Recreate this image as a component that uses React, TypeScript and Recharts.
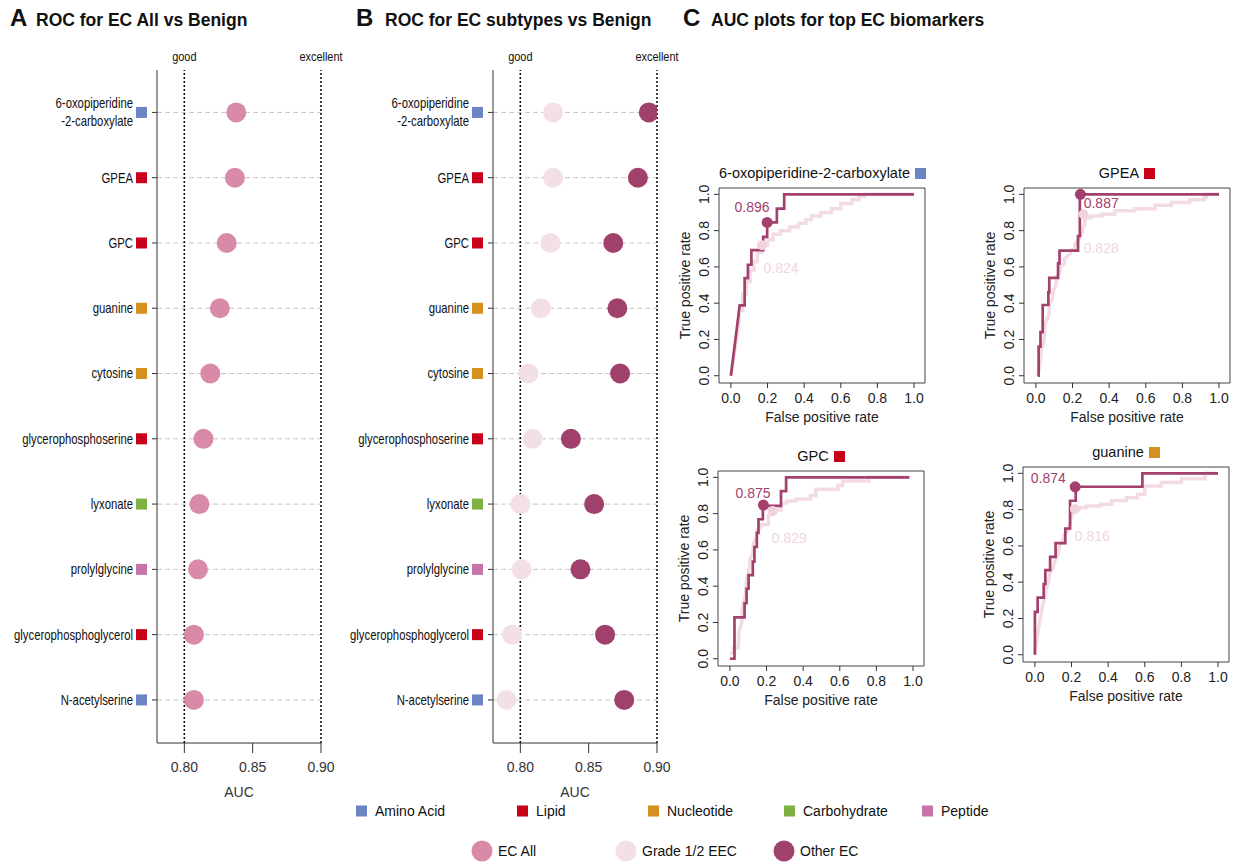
import React from "react";
import {
  ComposedChart,
  ScatterChart,
  Scatter,
  Line,
  XAxis,
  YAxis,
  ReferenceLine,
  ReferenceDot,
  ReferenceArea,
  Label,
} from "recharts";

const SANS = "'Liberation Sans', Arial, Helvetica, sans-serif";
const NARROW_SCALE = 0.81;

// ---- panels A / B data ----
const biomarkers = [
  "6-oxopiperidine\n-2-carboxylate",
  "GPEA",
  "GPC",
  "guanine",
  "cytosine",
  "glycerophosphoserine",
  "lyxonate",
  "prolylglycine",
  "glycerophosphoglycerol",
  "N-acetylserine",
];
const biomarkerClass = [
  "Amino Acid",
  "Lipid",
  "Lipid",
  "Nucleotide",
  "Nucleotide",
  "Lipid",
  "Carbohydrate",
  "Peptide",
  "Lipid",
  "Amino Acid",
];
const classNames = ["Amino Acid", "Lipid", "Nucleotide", "Carbohydrate", "Peptide"];
const classColors = ["#6b84c4", "#c8001a", "#d4911f", "#7db240", "#c973ab"];

const aucEcAll = [0.838, 0.837, 0.831, 0.826, 0.819, 0.814, 0.811, 0.81, 0.807, 0.807];
const aucGrade12 = [0.824, 0.824, 0.822, 0.815, 0.806, 0.809, 0.8, 0.801, 0.794, 0.79];
const aucOtherEc = [0.894, 0.886, 0.868, 0.871, 0.873, 0.837, 0.854, 0.844, 0.862, 0.876];

const groupNames = ["EC All", "Grade 1/2 EEC", "Other EC"];
const groupColors = ["#d98aa8", "#f2e0e6", "#a0416c"];

const aucTicks = [0.8, 0.85, 0.9];
const rowIdx = biomarkers.map((_, i) => i + 1);

// ---- panel C data ----
const rocTitles = ["6-oxopiperidine-2-carboxylate", "GPEA", "GPC", "guanine"];
const rocClass = ["Amino Acid", "Lipid", "Lipid", "Nucleotide"];
const rocAucOther = [0.896, 0.887, 0.875, 0.874];
const rocAucGrade = [0.824, 0.828, 0.829, 0.816];

const rocOther1 = [[0, 0], [0.048, 0.388], [0.075, 0.388], [0.075, 0.538], [0.093, 0.538], [0.093, 0.612], [0.112, 0.612], [0.112, 0.693], [0.176, 0.693], [0.176, 0.766], [0.198, 0.766], [0.198, 0.845], [0.251, 0.845], [0.251, 0.921], [0.291, 0.921], [0.291, 1], [1, 1]];
const rocGrade1 = [[0, 0], [0.045, 0.3], [0.045, 0.36], [0.065, 0.36], [0.065, 0.45], [0.085, 0.45], [0.085, 0.52], [0.105, 0.52], [0.105, 0.58], [0.125, 0.58], [0.125, 0.63], [0.145, 0.63], [0.145, 0.68], [0.17, 0.68], [0.17, 0.72], [0.2, 0.72], [0.2, 0.75], [0.23, 0.75], [0.23, 0.78], [0.27, 0.78], [0.27, 0.8], [0.32, 0.8], [0.32, 0.82], [0.37, 0.82], [0.37, 0.84], [0.41, 0.84], [0.41, 0.86], [0.44, 0.86], [0.44, 0.88], [0.49, 0.88], [0.49, 0.9], [0.55, 0.9], [0.55, 0.92], [0.6, 0.92], [0.6, 0.95], [0.66, 0.95], [0.66, 0.97], [0.7, 0.97], [0.7, 0.99], [0.73, 0.99], [0.73, 1], [1, 1]];

const rocOther2 = [[0.01, 0], [0.015, 0], [0.015, 0.16], [0.025, 0.16], [0.025, 0.24], [0.037, 0.24], [0.037, 0.39], [0.068, 0.39], [0.068, 0.46], [0.073, 0.46], [0.073, 0.54], [0.121, 0.54], [0.121, 0.62], [0.129, 0.62], [0.129, 0.69], [0.23, 0.69], [0.23, 0.77], [0.24, 0.77], [0.24, 1], [1, 1]];
const rocGrade2 = [[0.01, 0], [0.02, 0.05], [0.03, 0.14], [0.045, 0.2], [0.05, 0.29], [0.07, 0.33], [0.075, 0.4], [0.09, 0.42], [0.095, 0.47], [0.11, 0.5], [0.115, 0.55], [0.13, 0.57], [0.135, 0.6], [0.155, 0.62], [0.16, 0.65], [0.185, 0.67], [0.19, 0.69], [0.21, 0.7], [0.215, 0.73], [0.23, 0.74], [0.235, 0.76], [0.25, 0.78], [0.255, 0.81], [0.265, 0.83], [0.27, 0.87], [0.3, 0.87], [0.3, 0.88], [0.36, 0.88], [0.36, 0.89], [0.43, 0.89], [0.43, 0.91], [0.54, 0.91], [0.54, 0.92], [0.65, 0.92], [0.65, 0.94], [0.74, 0.94], [0.74, 0.955], [0.84, 0.955], [0.84, 0.97], [0.92, 0.97], [0.92, 0.985], [0.93, 0.985], [0.93, 1], [1, 1]];

const rocOther3 = [[0, 0], [0.025, 0], [0.025, 0.228], [0.08, 0.228], [0.08, 0.306], [0.091, 0.306], [0.091, 0.386], [0.102, 0.386], [0.102, 0.461], [0.125, 0.461], [0.125, 0.535], [0.134, 0.535], [0.134, 0.616], [0.147, 0.616], [0.147, 0.694], [0.156, 0.694], [0.156, 0.769], [0.18, 0.769], [0.18, 0.843], [0.279, 0.843], [0.279, 0.924], [0.307, 0.924], [0.307, 1], [0.98, 1]];
const rocGrade3 = [[0, 0.03], [0.02, 0.03], [0.02, 0.06], [0.045, 0.06], [0.05, 0.15], [0.065, 0.2], [0.07, 0.3], [0.085, 0.35], [0.09, 0.43], [0.105, 0.5], [0.11, 0.55], [0.125, 0.58], [0.13, 0.64], [0.145, 0.67], [0.15, 0.71], [0.165, 0.72], [0.17, 0.74], [0.21, 0.74], [0.21, 0.79], [0.24, 0.8], [0.26, 0.82], [0.28, 0.82], [0.28, 0.85], [0.31, 0.86], [0.31, 0.87], [0.36, 0.87], [0.36, 0.88], [0.44, 0.88], [0.44, 0.9], [0.47, 0.9], [0.47, 0.935], [0.59, 0.935], [0.59, 0.955], [0.615, 0.955], [0.615, 0.98], [0.76, 0.98], [0.76, 1], [0.98, 1]];

const rocOther4 = [[0, 0], [0, 0.236], [0.015, 0.236], [0.015, 0.315], [0.048, 0.315], [0.048, 0.389], [0.057, 0.389], [0.057, 0.466], [0.083, 0.466], [0.083, 0.54], [0.113, 0.54], [0.113, 0.615], [0.166, 0.615], [0.166, 0.696], [0.192, 0.696], [0.192, 0.849], [0.223, 0.849], [0.223, 0.926], [0.587, 0.926], [0.587, 1], [1, 1]];
const rocGrade4 = [[0, 0], [0.01, 0.08], [0.02, 0.15], [0.03, 0.2], [0.04, 0.26], [0.05, 0.3], [0.06, 0.36], [0.075, 0.4], [0.08, 0.45], [0.1, 0.48], [0.11, 0.52], [0.125, 0.55], [0.135, 0.6], [0.15, 0.62], [0.16, 0.66], [0.18, 0.68], [0.2, 0.76], [0.21, 0.79], [0.24, 0.8], [0.24, 0.81], [0.28, 0.81], [0.28, 0.82], [0.36, 0.82], [0.36, 0.83], [0.42, 0.83], [0.42, 0.85], [0.5, 0.85], [0.5, 0.865], [0.56, 0.865], [0.56, 0.885], [0.6, 0.885], [0.6, 0.93], [0.69, 0.93], [0.69, 0.95], [0.8, 0.95], [0.8, 0.97], [0.93, 0.97], [0.93, 1], [1, 1]];

const rocOther = [rocOther1, rocOther2, rocOther3, rocOther4];
const rocGrade = [rocGrade1, rocGrade2, rocGrade3, rocGrade4];
const rocDotOther = [[0.198, 0.845], [0.243, 1.0], [0.183, 0.847], [0.22, 0.926]];
const rocDotGrade = [[0.17, 0.72], [0.26, 0.89], [0.234, 0.815], [0.218, 0.803]];

const rateTicks = [0, 0.2, 0.4, 0.6, 0.8, 1];

// layout of the four ROC boxes and where the AUC text sits (data units)
const rocLayout = [
  { boxX: 719, boxY: 188, otherLab: [0.02, 0.93], gradeLab: [0.178, 0.594] },
  { boxX: 1024, boxY: 188, otherLab: [0.261, 0.951], gradeLab: [0.261, 0.704] },
  { boxX: 718, boxY: 471, otherLab: [0.031, 0.912], gradeLab: [0.229, 0.666] },
  { boxX: 1023, boxY: 467, otherLab: [-0.022, 0.974], gradeLab: [0.218, 0.652] },
];

const colorOf = (cls: string) => classColors[classNames.indexOf(cls)];
const toPts = (arr: number[][]) => arr.map(([x, y]) => ({ x, y }));

// condensed-looking text (no narrow font installed)
function NarrowText({ x, y, anchor, size, children }: any) {
  return (
    <text
      transform={`translate(${x},${y}) scale(${NARROW_SCALE},1)`}
      textAnchor={anchor}
      fontFamily={SANS}
      fontSize={size}
      fill="#111"
      dy="0.35em"
    >
      {children}
    </text>
  );
}

function MarkerTick(props: any) {
  const { x, y, payload } = props;
  const i = Math.round(payload.value) - 1;
  const name = biomarkers[i];
  if (!name) return null;
  const lines = name.split("\n");
  return (
    <g>
      <rect x={x - 16} y={y - 5.5} width={11} height={11} fill={colorOf(biomarkerClass[i])} />
      {lines.map((l, k) => (
        <NarrowText
          key={k}
          x={x - 19}
          y={lines.length === 1 ? y : y + (k === 0 ? -9.5 : 8.5)}
          anchor="end"
          size={14}
        >
          {l}
        </NarrowText>
      ))}
    </g>
  );
}

function TopLabel(props: any) {
  const { viewBox, value } = props;
  if (!viewBox) return null;
  return (
    <NarrowText x={viewBox.x} y={viewBox.y - 14} anchor="middle" size={13.5}>
      {value}
    </NarrowText>
  );
}

function DotPanel({ left, groups }: { left: number; groups: number[] }) {
  const values = [aucEcAll, aucGrade12, aucOtherEc];
  return (
    <div style={{ position: "absolute", left, top: 0 }}>
      <ScatterChart width={360} height={800} margin={{ top: 70, right: 39, left: 0, bottom: 0 }}>
        <XAxis
          type="number"
          dataKey="auc"
          domain={[0.78, 0.9]}
          allowDataOverflow
          ticks={aucTicks}
          tickFormatter={(v: number) => v.toFixed(2)}
          height={57}
          tickSize={10}
          tickMargin={9}
          stroke="#333"
          tick={{ fontSize: 14, fill: "#333", fontFamily: SANS }}
        >
          <Label value="AUC" position="insideBottom" offset={3} fontSize={14} fill="#333" fontFamily={SANS} />
        </XAxis>
        <YAxis
          type="number"
          dataKey="row"
          domain={[0.35, 10.66]}
          allowDataOverflow
          reversed
          ticks={rowIdx}
          interval={0}
          width={157}
          tickSize={5}
          tickMargin={0}
          stroke="#333"
          tick={<MarkerTick />}
        />
        {rowIdx.map((r) => (
          <ReferenceLine key={r} y={r} stroke="#c6c6c6" strokeDasharray="5 3" />
        ))}
        <ReferenceLine
          x={0.8}
          stroke="#111"
          strokeWidth={1.6}
          strokeDasharray="2 2"
          label={<TopLabel value="good" />}
        />
        <ReferenceLine
          x={0.9}
          stroke="#111"
          strokeWidth={1.6}
          strokeDasharray="2 2"
          label={<TopLabel value="excellent" />}
        />
        {groups.map((g) => (
          <Scatter
            key={g}
            name={groupNames[g]}
            data={values[g].map((auc, i) => ({ auc, row: i + 1 }))}
            fill={groupColors[g]}
            isAnimationActive={false}
            shape={(p: any) => <circle cx={p.cx} cy={p.cy} r={10} fill={groupColors[g]} />}
          />
        ))}
      </ScatterChart>
    </div>
  );
}

function RotTick(props: any) {
  const { x, y, payload } = props;
  return (
    <text
      x={x}
      y={y}
      transform={`rotate(-90, ${x}, ${y})`}
      textAnchor="middle"
      fontSize={14}
      fill="#222"
      fontFamily={SANS}
    >
      {Number(payload.value).toFixed(1)}
    </text>
  );
}

function RocPanel({ idx }: { idx: number }) {
  const lay = rocLayout[idx];
  const ML = 52;
  const MT = 40;
  const xDom = [-0.065, 1.06];
  const yDom = [-0.04, 1.035];
  return (
    <>
      <div
        style={{
          position: "absolute",
          left: lay.boxX,
          top: lay.boxY - 23,
          width: 206,
          textAlign: "center",
          fontFamily: SANS,
          fontSize: 14.5,
          lineHeight: "16px",
          color: "#111",
          whiteSpace: "nowrap",
        }}
      >
        {rocTitles[idx]}
        <span
          style={{
            display: "inline-block",
            width: 11,
            height: 11,
            marginLeft: 5,
            background: colorOf(rocClass[idx]),
            verticalAlign: "-1px",
          }}
        />
      </div>
      <div style={{ position: "absolute", left: lay.boxX - ML, top: lay.boxY - MT }}>
        <ComposedChart width={270} height={280} margin={{ top: MT, right: 12, left: 0, bottom: 0 }}>
          <XAxis
            type="number"
            dataKey="x"
            domain={xDom}
            allowDataOverflow
            ticks={rateTicks}
            interval={0}
            tickFormatter={(v: number) => v.toFixed(1)}
            height={45}
            tickSize={5}
            tickMargin={5}
            stroke="#333"
            axisLine={false}
            tick={{ fontSize: 14, fill: "#222", fontFamily: SANS }}
          >
            <Label value="False positive rate" position="insideBottom" offset={6} fontSize={14} fill="#222" fontFamily={SANS} />
          </XAxis>
          <YAxis
            type="number"
            dataKey="y"
            domain={yDom}
            allowDataOverflow
            ticks={rateTicks}
            interval={0}
            width={ML}
            tickSize={5}
            tickMargin={5}
            stroke="#333"
            axisLine={false}
            tick={<RotTick />}
          >
            <Label
              value="True positive rate"
              angle={-90}
              position="insideLeft"
              offset={18}
              style={{ textAnchor: "middle" }}
              fontSize={14}
              fill="#222"
              fontFamily={SANS}
            />
          </YAxis>
          <ReferenceArea
            x1={xDom[0]}
            x2={xDom[1]}
            y1={yDom[0]}
            y2={yDom[1]}
            fill="none"
            stroke="#444"
            strokeWidth={1}
            ifOverflow="visible"
          />
          <Line
            data={toPts(rocGrade[idx])}
            dataKey="y"
            type="linear"
            stroke="#f3dbe3"
            strokeWidth={3.5}
            dot={false}
            isAnimationActive={false}
          />
          <ReferenceDot x={rocDotGrade[idx][0]} y={rocDotGrade[idx][1]} r={5} fill="#f0d3dd" stroke="none" />
          <Line
            data={toPts(rocOther[idx])}
            dataKey="y"
            type="linear"
            stroke="#a3406d"
            strokeWidth={2.7}
            dot={false}
            isAnimationActive={false}
          />
          <ReferenceDot x={rocDotOther[idx][0]} y={rocDotOther[idx][1]} r={5.5} fill="#a3406d" stroke="none" />
          <ReferenceDot
            x={lay.otherLab[0]}
            y={lay.otherLab[1]}
            r={0}
            stroke="none"
            label={{ value: rocAucOther[idx].toFixed(3), position: "right", offset: 0, fill: "#a3406d", fontSize: 14, fontFamily: SANS }}
          />
          <ReferenceDot
            x={lay.gradeLab[0]}
            y={lay.gradeLab[1]}
            r={0}
            stroke="none"
            label={{ value: rocAucGrade[idx].toFixed(3), position: "right", offset: 0, fill: "#f2d6df", fontSize: 14, fontFamily: SANS }}
          />
        </ComposedChart>
      </div>
    </>
  );
}

const classLegendX = [356, 517, 648, 784, 922];
const groupLegendX = [482, 626, 784];

export default function App() {
  return (
    <div
      style={{
        position: "absolute",
        left: 0,
        top: 0,
        width: 1234,
        height: 864,
        background: "#fff",
        overflow: "hidden",
        fontFamily: SANS,
      }}
    >
      <DotPanel left={0} groups={[0]} />
      <DotPanel left={336} groups={[1, 2]} />
      {rocLayout.map((_, i) => (
        <RocPanel key={i} idx={i} />
      ))}
      <svg
        width={1234}
        height={864}
        style={{ position: "absolute", left: 0, top: 0, pointerEvents: "none" }}
      >
        <g fontFamily={SANS} fontWeight="bold" fill="#111">
          <text x={10} y={26} fontSize={24}>A</text>
          <text x={36} y={26} fontSize={17.5}>ROC for EC All vs Benign</text>
          <text x={356} y={26} fontSize={24}>B</text>
          <text x={385} y={26} fontSize={17.5}>ROC for EC subtypes vs Benign</text>
          <text x={683} y={26} fontSize={24}>C</text>
          <text x={711} y={26} fontSize={17.5}>AUC plots for top EC biomarkers</text>
        </g>
        <g fontFamily={SANS} fontSize={14} fill="#111">
          {classNames.map((c, i) => (
            <g key={c}>
              <rect x={classLegendX[i]} y={805.5} width={11} height={11} fill={classColors[i]} />
              <text x={classLegendX[i] + 19} y={816}>{c}</text>
            </g>
          ))}
          {groupNames.map((g, i) => (
            <g key={g}>
              <circle cx={groupLegendX[i]} cy={851} r={10.5} fill={groupColors[i]} />
              <text x={groupLegendX[i] + 16} y={856}>{g}</text>
            </g>
          ))}
        </g>
      </svg>
    </div>
  );
}
